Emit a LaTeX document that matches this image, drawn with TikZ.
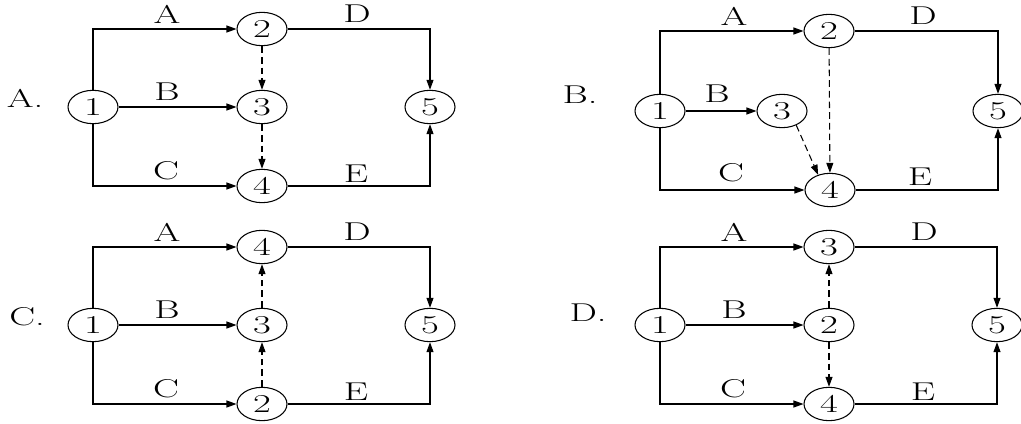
\documentclass[tikz,border=0pt]{standalone}
\usepackage{fontspec}
\setmainfont{Latin Modern Roman}[FakeStretch=1.5]
\usetikzlibrary{arrows.meta,shapes.geometric}

\begin{document}
\begin{tikzpicture}[x=0.03cm,y=-0.03cm,font=\fontsize{22}{26}\selectfont,
  evt/.style={draw,ellipse,line width=0.9pt,fill=white,minimum width=1.5cm,minimum height=1cm,inner sep=0pt},
  act/.style={line width=0.9pt,-{Triangle[length=3mm,width=2.1mm]}},
  dum/.style={act,dash pattern=on 2mm off 1.2mm}]
\useasboundingbox (0,0) rectangle (1021,423);
% panels A, C and D share one layout
\foreach \p/\ox/\oy/\nt/\nm/\nb/\fa/\ta/\fb/\tb in {
  A/0/0/2/3/4/t/m/m/b,
  C/0/218/4/3/2/m/t/b/m,
  D/567/218/3/2/4/m/t/m/b} {
  \node[evt] (\p1) at (93+\ox,107+\oy) {1};
  \node[evt] (\p t) at (262+\ox,29+\oy) {\nt};
  \node[evt] (\p m) at (262+\ox,107+\oy) {\nm};
  \node[evt] (\p b) at (262+\ox,186+\oy) {\nb};
  \node[evt] (\p5) at (430+\ox,107+\oy) {5};
  \draw[act] (\p1.north) |- (\p t.west);
  \draw[act] (\p1) -- (\p m);
  \draw[act] (\p1.south) |- (\p b.west);
  \draw[act] (\p t.east) -| (\p5.north);
  \draw[act] (\p b.east) -| (\p5.south);
  \draw[dum] (\p\fa) -- (\p\ta);
  \draw[dum] (\p\fb) -- (\p\tb);
  \node (\p-A) at (167+\ox,14+\oy) {A};
  \node (\p-B) at (167+\ox,92+\oy) {B};
  \node (\p-C) at (166+\ox,171+\oy) {C};
  \node (\p-D) at (357+\ox,14+\oy) {D};
  \node (\p-E) at (356+\ox,174+\oy) {E};
}
\node (capA) at (25,98) {A.};
\node (capC) at (27,317) {C.};
\node (capD) at (588,313) {D.};
% panel B
\node (capB) at (580,95) {B.};
\node[evt] (B1) at (660,111) {1};
\node[evt] (B2) at (829,31) {2};
\node[evt] (B3) at (782,111) {3};
\node[evt] (B4) at (830,190) {4};
\node[evt] (B5) at (998,111) {5};
\draw[act] (B1.north) |- (B2.west);
\draw[act] (B1) -- (B3);
\draw[act] (B1.south) |- (B4.west);
\draw[act] (B2.east) -| (B5.north);
\draw[act] (B4.east) -| (B5.south);
\draw[dum] (B2) -- (B4);
\draw[dum] (B3.-45) -- (B4.128);
\node (B-A) at (734,16) {A};
\node (B-B) at (717,94) {B};
\node (B-C) at (731,173) {C};
\node (B-D) at (923,16) {D};
\node (B-E) at (920,177) {E};
\end{tikzpicture}
\end{document}
